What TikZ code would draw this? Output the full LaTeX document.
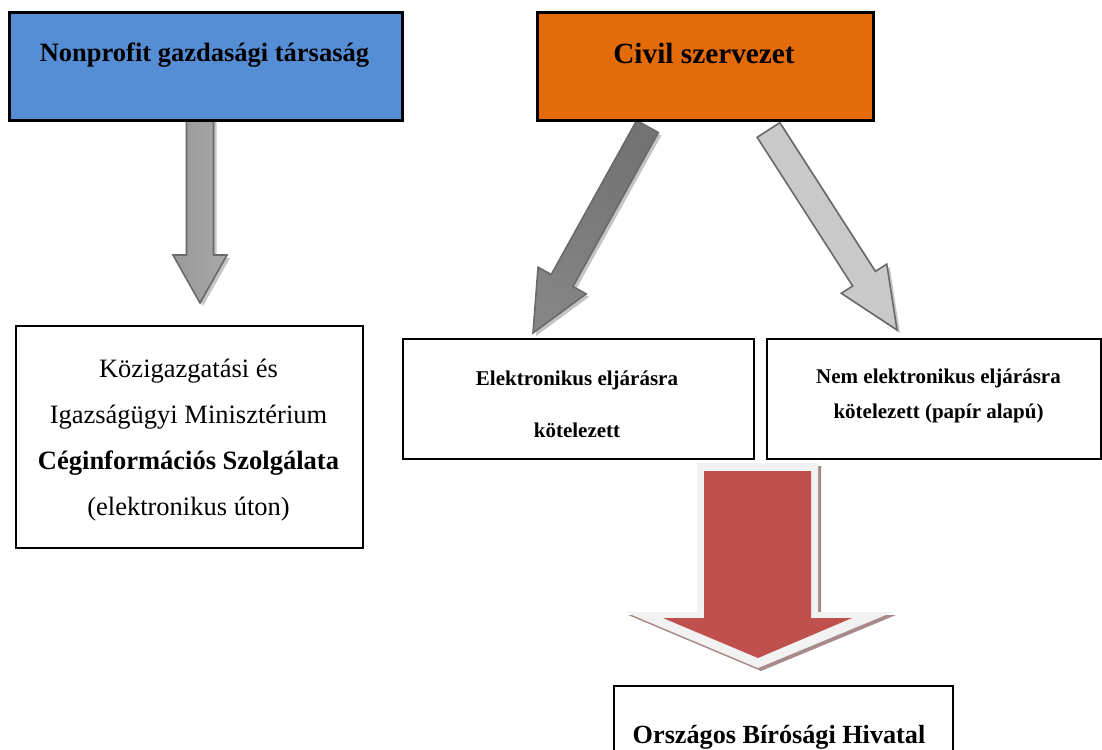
\documentclass[tikz,border=0pt]{standalone}
\usepackage{fontspec}
\setmainfont{Liberation Serif}
\usetikzlibrary{calc}
\definecolor{npblue}{HTML}{558ED5}
\definecolor{cvorange}{HTML}{E36C09}
\definecolor{arrred}{HTML}{C0504D}
\definecolor{arrline}{HTML}{6A6A6A}
\definecolor{arrshadow}{HTML}{C4C4C4}
\definecolor{redshadow}{HTML}{A88A8A}
\definecolor{redrim}{HTML}{F2F2F2}
\newcommand{\fsz}[1]{\fontsize{#1}{#1}\selectfont}
% #1 tail coord, #2 tip coord, #3 shaft half width, #4 head half width, #5 head length, #6 style
\newcommand{\blockarrow}[6]{%
  \coordinate (ha) at ($(#2)!#5!(#1)$);
  \path[#6] ($(#1)!#3!90:(#2)$) -- ($(ha)!#3!90:(#2)$) -- ($(ha)!#4!90:(#2)$) -- (#2)
    -- ($(ha)!#4!-90:(#2)$) -- ($(ha)!#3!-90:(#2)$) -- ($(#1)!#3!-90:(#2)$) -- cycle;}
\begin{document}
\begin{tikzpicture}[x=1pt,y=-1pt,
  box/.style={draw=black,line width=1.8pt,fill=white,inner sep=0pt,anchor=north west},
  headbox/.style={box,line width=2.6pt},
  lbl/.style={anchor=base,inner sep=0pt,text=black},
  greyarrow/.style={draw=arrline,line width=1.6pt,line join=miter},
  arrshade/.style={fill=arrshadow,draw=none}]
\useasboundingbox (0,0) rectangle (1102,749);
\clip (0,0) rectangle (1102,749);

% arrow end points
\coordinate (a1s) at (200,118);  \coordinate (a1t) at (200,303);
\coordinate (a2s) at (647.5,126.5); \coordinate (a2t) at (533,333);
\coordinate (a3s) at (768.5,130); \coordinate (a3t) at (897,330);

% shadows of grey arrows
\begin{scope}[transform canvas={shift={(3pt,-3pt)}}]
\blockarrow{a1s}{a1t}{13.5pt}{27pt}{48pt}{arrshade}
\blockarrow{a2s}{a2t}{12.4pt}{27.5pt}{60pt}{arrshade}
\blockarrow{a3s}{a3t}{13.5pt}{27pt}{61pt}{arrshade}
\end{scope}

% grey arrows
\blockarrow{a1s}{a1t}{13.5pt}{27pt}{48pt}{greyarrow,left color=black!40,middle color=black!14,right color=black!34}
\blockarrow{a2s}{a2t}{12.4pt}{27.5pt}{60pt}{greyarrow,left color=black!55,middle color=black!20,right color=black!48,shading angle=-29}
\blockarrow{a3s}{a3t}{13.5pt}{27pt}{61pt}{greyarrow,fill=black!21}

% boxes
\node[headbox,fill=npblue,minimum width=393pt,minimum height=108pt] (np) at (8,11) {};
\node[headbox,fill=cvorange,minimum width=336pt,minimum height=108pt] (cv) at (536,11) {};
\node[box,minimum width=347pt,minimum height=222pt] (kim) at (15,325) {};
\node[box,minimum width=351pt,minimum height=120pt] (el) at (402,338) {};
\node[box,minimum width=334pt,minimum height=120pt] (nel) at (766,338) {};
\node[box,minimum width=339pt,minimum height=90pt] (obh) at (613,685) {};

% red arrow
\coordinate (rs) at (757.5,463);
\coordinate (rt) at (758,668);
\begin{scope}[transform canvas={shift={(3pt,-3pt)}}]
\fill[redshadow] (697,463) -- (818,463) -- (818,612) -- (893,612) -- (rt) -- (625,612) -- (697,612) -- cycle;
\end{scope}
\fill[redrim] (697,463) -- (818,463) -- (818,612) -- (893,612) -- (rt) -- (625,612) -- (697,612) -- cycle;
\fill[arrred] (704,471) -- (811,471) -- (811,618) -- (852,618) -- (758,658) -- (663,618) -- (704,618) -- cycle;

% texts
\node[lbl,font=\fsz{26.5}\bfseries] (tnp) at (204.5,62) {Nonprofit gazdasági társaság};
\node[lbl,font=\fsz{29.3}\bfseries] (tcv) at (704,64) {Civil szervezet};

\node[lbl,font=\fsz{26.5}] (k1) at (188.5,377) {Közigazgatási és};
\node[lbl,font=\fsz{26.5}] (k2) at (188.5,423) {Igazságügyi Minisztérium};
\node[lbl,font=\fsz{26.5}\bfseries] (k3) at (188.5,469) {Céginformációs Szolgálata};
\node[lbl,font=\fsz{26.5}] (k4) at (188.5,515) {(elektronikus úton)};

\node[lbl,font=\fsz{21}\bfseries] (e1) at (577,385) {Elektronikus eljárásra};
\node[lbl,font=\fsz{21}\bfseries] (e2) at (577,437) {kötelezett};

\node[lbl,font=\fsz{21}\bfseries] (n1) at (938.5,383) {Nem elektronikus eljárásra};
\node[lbl,font=\fsz{21}\bfseries] (n2) at (938.5,418) {kötelezett (papír alapú)};

\node[lbl,font=\fsz{26.2}\bfseries] (to) at (779,743) {Országos Bírósági Hivatal};
\end{tikzpicture}
\end{document}
